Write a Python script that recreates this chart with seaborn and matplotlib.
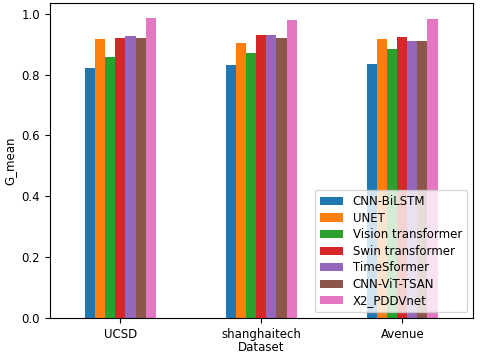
import pandas as pd
import matplotlib
matplotlib.use('Agg')
import matplotlib.pyplot as plt
import seaborn as sns

# Data
datasets = ['UCSD', 'shanghaitech', 'Avenue']
models = ['CNN-BiLSTM', 'UNET', 'Vision transformer', 'Swin transformer',
          'TimeSformer', 'CNN-ViT-TSAN', 'X2_PDDVnet']
cnn_bilstm = [0.822, 0.831, 0.836]
unet = [0.918, 0.903, 0.917]
vision_transformer = [0.858, 0.871, 0.885]
swin_transformer = [0.920, 0.931, 0.924]
timesformer = [0.926, 0.931, 0.910]
cnn_vit_tsan = [0.920, 0.920, 0.910]
x2_pddvnet = [0.985, 0.978, 0.983]

values = [cnn_bilstm, unet, vision_transformer, swin_transformer,
          timesformer, cnn_vit_tsan, x2_pddvnet]
rows = []
for m, vals in zip(models, values):
    for d, v in zip(datasets, vals):
        rows.append({'Dataset': d, 'Model': m, 'G_mean': v})
df = pd.DataFrame(rows)

plt.rcParams['font.family'] = ['DejaVu Sans']
plt.rcParams['font.size'] = 8.5

fig = plt.figure(figsize=(4.8, 3.55), dpi=100)
ax = fig.add_axes([0.104, 0.104, 0.881, 0.887])
sns.barplot(data=df, x='Dataset', y='G_mean', hue='Model', order=datasets,
            hue_order=models, palette='tab10', saturation=1, width=0.5,
            linewidth=0, ax=ax)
ax.set_xlim(-0.5, 2.5)
ax.set_ylim(0, 0.985 * 1.05)
ax.set_yticks([0.0, 0.2, 0.4, 0.6, 0.8, 1.0])
ax.set_xlabel('Dataset', labelpad=0.5)
ax.set_ylabel('G_mean')
ax.legend(loc='lower right', fontsize=8.5, title=None, labelspacing=0.3)

fig.savefig('out.png', dpi=100)
